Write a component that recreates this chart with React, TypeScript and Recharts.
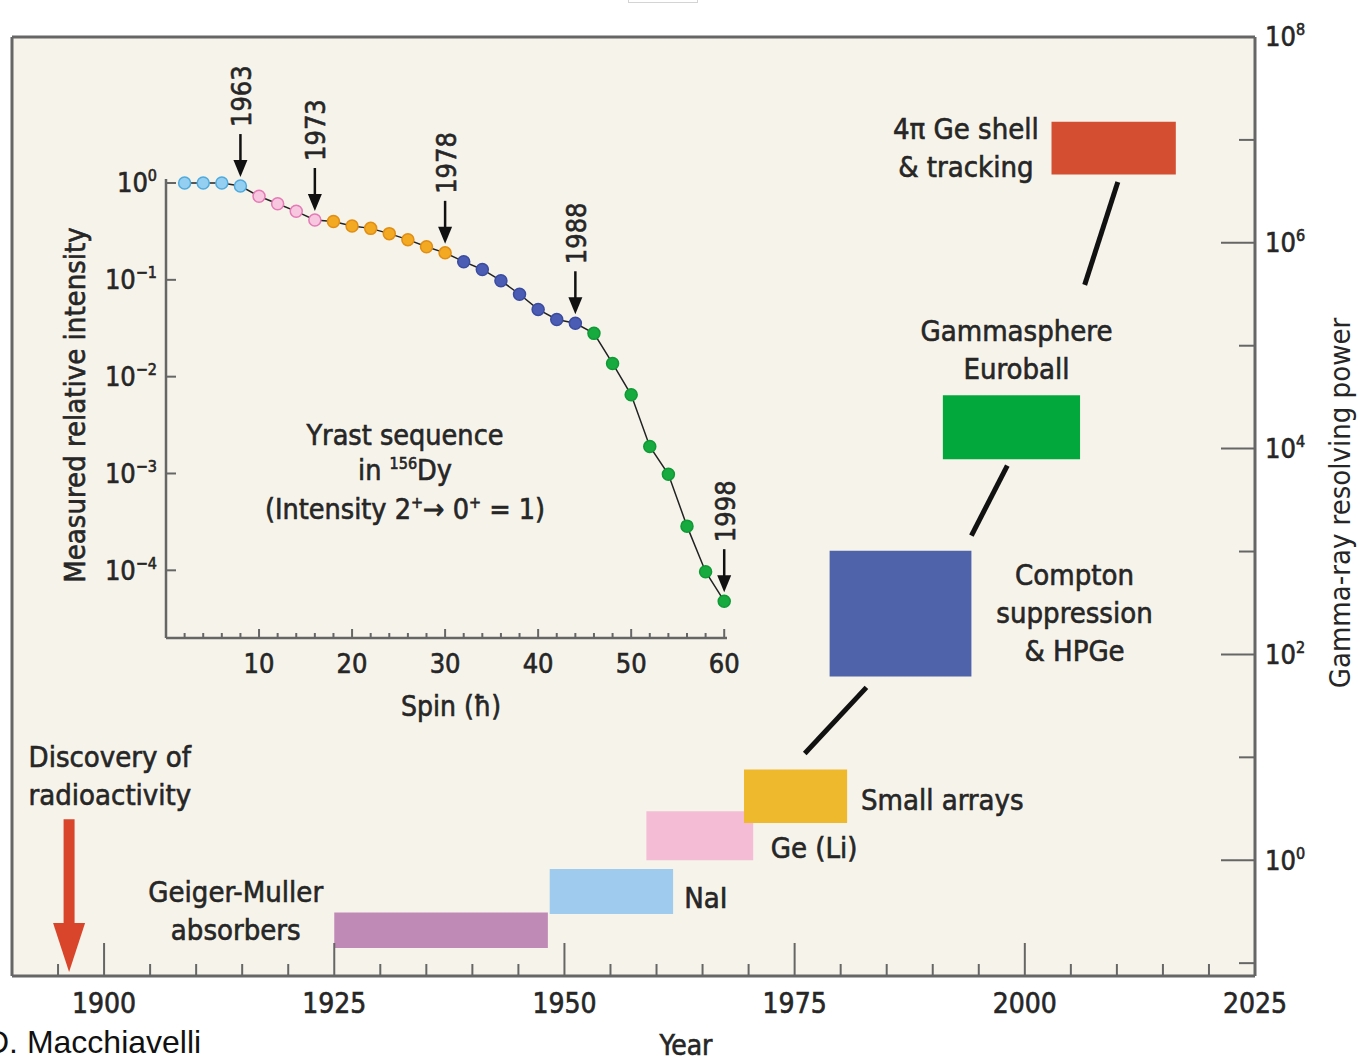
import {
  ComposedChart,
  LineChart,
  Line,
  XAxis,
  YAxis,
  CartesianGrid,
  ReferenceArea,
  ReferenceLine,
  ReferenceDot,
} from "recharts";

const FONT = '"Liberation Sans Narrow", "DejaVu Sans Condensed", Roboto, sans-serif';
const INK = "#262626";
const AXIS = "#666";
const BG = "#f6f3ea";

// detector generations (year span x gamma-ray resolving power)
const detectorNames = [
  "Geiger-Muller absorbers",
  "NaI",
  "Ge (Li)",
  "Small arrays",
  "Compton suppression & HPGe",
  "Gammasphere Euroball",
  "4π Ge shell & tracking",
];
const startYears = [1925, 1948.4, 1958.9, 1969.5, 1978.8, 1991.1, 2002.9];
const endYears = [1948.2, 1961.8, 1970.5, 1980.7, 1994.2, 2006, 2016.4];
const lowPower = [0.14, 0.3, 1.0, 2.3, 61, 7900, 4.6e6];
const highPower = [0.31, 0.82, 3.0, 7.6, 1020, 33000, 1.5e7];
const detectorColors = ["#c08ab6", "#9ecbee", "#f4bdd5", "#efb92d", "#4f63aa", "#03a83d", "#d44f31"];

// black links between generations
const linkYears = [
  [1976.1, 1982.8],
  [1994.2, 1998.1],
  [2006.5, 2010.1],
];
const linkPower = [
  [10.9, 47.8],
  [1430, 6840],
  [3.9e5, 3.9e6],
];

const discoveryYear = 1896.2;
const discoveryPower = [2.5, 0.082];

const yearTicks = [
  1890, 1895, 1900, 1905, 1910, 1915, 1920, 1925, 1930, 1935, 1940, 1945, 1950, 1955, 1960, 1965,
  1970, 1975, 1980, 1985, 1990, 1995, 2000, 2005, 2010, 2015, 2020, 2025,
];
const powerTicks = [0.1, 1, 10, 100, 1e3, 1e4, 1e5, 1e6, 1e7, 1e8];

// text notes on the main chart
const noteLines = [
  ["Discovery of", "radioactivity"],
  ["Geiger-Muller", "absorbers"],
  ["NaI"],
  ["Ge (Li)"],
  ["Small arrays"],
  ["Compton", "suppression", "& HPGe"],
  ["Gammasphere", "Euroball"],
  ["4π Ge shell", "& tracking"],
];
const noteYears = [1891.8, 1914.3, 1963.0, 1972.4, 1982.2, 2005.4, 1999.1, 1993.6];
const notePower = [10, 0.49, 0.43, 1.31, 3.9, 598, 1.4e5, 1.28e7];
const noteAlign = ["start", "middle", "start", "start", "start", "middle", "middle", "middle"];

// inset: yrast sequence in 156Dy
const spins = [
  2, 4, 6, 8, 10, 12, 14, 16, 18, 20, 22, 24, 26, 28, 30, 32, 34, 36, 38, 40, 42, 44, 46, 48, 50, 52,
  54, 56, 58, 60,
];
const intensities = [
  1, 1, 1, 0.93, 0.73, 0.61, 0.51, 0.415, 0.4, 0.36, 0.34, 0.3, 0.26, 0.22, 0.19, 0.154, 0.128,
  0.098, 0.071, 0.0495, 0.039, 0.0356, 0.028, 0.0137, 0.0065, 0.0019, 0.00098, 0.000286, 0.0000966,
  0.000048,
];
const firstSeen = [
  1963, 1963, 1963, 1963, 1973, 1973, 1973, 1973, 1978, 1978, 1978, 1978, 1978, 1978, 1978, 1988,
  1988, 1988, 1988, 1988, 1988, 1988, 1998, 1998, 1998, 1998, 1998, 1998, 1998, 1998,
];
const milestoneYears = [1963, 1973, 1978, 1988, 1998];
const dotColors: Record<number, [string, string]> = {
  1963: ["#94cff1", "#4fabde"],
  1973: ["#f7c6df", "#e57ab6"],
  1978: ["#f3a922", "#e08e14"],
  1988: ["#4a5cb4", "#3b4ca0"],
  1998: ["#17aa3f", "#0f9a35"],
};
const spinTicks = [
  2, 4, 6, 8, 10, 12, 14, 16, 18, 20, 22, 24, 26, 28, 30, 32, 34, 36, 38, 40, 42, 44, 46, 48, 50, 52,
  54, 56, 58, 60,
];
const intensityTicks = [1e-4, 1e-3, 1e-2, 1e-1, 1];

const linkData = linkYears.map((ys, i) =>
  ys.map((year, j) => ({ year, power: linkPower[i][j] }))
);
const insetData = spins.map((spin, i) => ({ spin, intensity: intensities[i], seen: firstSeen[i] }));

const heavy = { stroke: INK, strokeWidth: 0.6 };

function YearTick({ x, y, payload }: any) {
  const v = payload.value;
  const major = v % 25 === 0;
  return (
    <g>
      {v > 1890 && v < 2025 && (
        <line x1={x} x2={x} y1={y} y2={y - (major ? 33 : 12)} stroke={AXIS} strokeWidth={2} />
      )}
      {major && v > 1890 && (
        <text x={x} y={y + 27} dy="0.35em" textAnchor="middle" fontFamily={FONT} fontSize={28} fill={INK} {...heavy}>
          {v}
        </text>
      )}
    </g>
  );
}

function PowerTick({ x, y, payload }: any) {
  const exp = Math.round(Math.log10(payload.value));
  const major = exp % 2 === 0;
  return (
    <g>
      {exp < 8 && (
        <line x1={x} x2={x - (major ? 34 : 16)} y1={y} y2={y} stroke={AXIS} strokeWidth={2} />
      )}
      {major && (
        <text x={x + 10} y={y} dy="0.35em" fontFamily={FONT} fontSize={27} fill={INK} {...heavy}>
          10
          <tspan dy={-11} fontSize={16}>
            {exp}
          </tspan>
        </text>
      )}
    </g>
  );
}

function SpinTick({ x, y, payload }: any) {
  const v = payload.value;
  const major = v % 10 === 0;
  return (
    <g>
      <line x1={x} x2={x} y1={y} y2={y - (major ? 9 : 5)} stroke={AXIS} strokeWidth={2} />
      {major && (
        <text x={x} y={y + 26} dy="0.35em" textAnchor="middle" fontFamily={FONT} fontSize={27} fill={INK} {...heavy}>
          {v}
        </text>
      )}
    </g>
  );
}

function IntensityTick({ x, y, payload }: any) {
  const exp = Math.round(Math.log10(payload.value));
  return (
    <g>
      <line x1={x} x2={x + 10} y1={y} y2={y} stroke={AXIS} strokeWidth={2} />
      <text x={x - 9} y={y} dy="0.35em" textAnchor="end" fontFamily={FONT} fontSize={27} fill={INK} {...heavy}>
        10
        <tspan dy={-11} fontSize={16}>
          {exp === 0 ? "0" : "\u2212" + Math.abs(exp)}
        </tspan>
      </text>
    </g>
  );
}

function Note({ cx, cy, lines, anchor }: any) {
  return (
    <text textAnchor={anchor} fontFamily={FONT} fontSize={29} fill={INK} {...heavy}>
      {lines.map((l: string, i: number) => (
        <tspan key={i} x={cx} y={cy + i * 38} dy="0.35em">
          {l}
        </tspan>
      ))}
    </text>
  );
}

function DiscoveryArrow({ x1, y1, x2, y2 }: any) {
  const headTop = y2 - 49;
  return (
    <g>
      <line x1={x1} x2={x1} y1={y1} y2={headTop + 2} stroke="#d9452b" strokeWidth={11} />
      <path d={`M${x2 - 16},${headTop} L${x2 + 16},${headTop} L${x2},${y2} Z`} fill="#d9452b" />
    </g>
  );
}

function Milestone({ cx, cy, label }: any) {
  const tip = cy - 9;
  const top = cy - 52;
  return (
    <g>
      <line x1={cx} x2={cx} y1={top} y2={tip - 12} stroke="#111" strokeWidth={2.5} />
      <path d={`M${cx - 7},${tip - 17} L${cx + 7},${tip - 17} L${cx},${tip} Z`} fill="#111" />
      <text
        transform={`translate(${cx + 1},${top - 7}) rotate(-90)`}
        dy="0.35em"
        fontFamily={FONT}
        fontSize={27}
        fill={INK}
        {...heavy}
      >
        {label}
      </text>
    </g>
  );
}

function SpinDot(props: any) {
  const { cx, cy, index } = props;
  const [fill, stroke] = dotColors[firstSeen[index]];
  return <circle key={index} cx={cx} cy={cy} r={6} fill={fill} stroke={stroke} strokeWidth={1.5} />;
}

function MainChart() {
  return (
    <ComposedChart width={1360} height={1061} margin={{ top: 37, right: 0, bottom: 0, left: 12 }}>
      <CartesianGrid fill={BG} fillOpacity={1} horizontal={false} vertical={false} />
      <XAxis
        type="number"
        dataKey="year"
        domain={[1890, 2025]}
        ticks={yearTicks}
        allowDataOverflow
        height={85}
        tickSize={0}
        tickMargin={0}
        tick={<YearTick />}
        axisLine={{ stroke: AXIS, strokeWidth: 3 }}
        tickLine={false}
        interval={0}
      />
      <YAxis
        type="number"
        orientation="right"
        scale="log"
        domain={[0.075, 1e8]}
        ticks={powerTicks}
        allowDataOverflow
        width={105}
        tickSize={0}
        tickMargin={0}
        tick={<PowerTick />}
        axisLine={{ stroke: AXIS, strokeWidth: 3 }}
        tickLine={false}
        interval={0}
      />
      <ReferenceLine y={1e8} stroke={AXIS} strokeWidth={3} ifOverflow="visible" />
      <ReferenceLine x={1890} stroke={AXIS} strokeWidth={3} ifOverflow="visible" />
      {detectorNames.map((name, i) => (
        <ReferenceArea
          key={name}
          x1={startYears[i]}
          x2={endYears[i]}
          y1={lowPower[i]}
          y2={highPower[i]}
          fill={detectorColors[i]}
          fillOpacity={1}
          stroke="none"
        />
      ))}
      {linkData.map((d, i) => (
        <Line
          key={i}
          data={d}
          dataKey="power"
          stroke="#111"
          strokeWidth={5}
          dot={false}
          isAnimationActive={false}
        />
      ))}
      <ReferenceLine
        segment={[
          { x: discoveryYear, y: discoveryPower[0] },
          { x: discoveryYear, y: discoveryPower[1] },
        ]}
        ifOverflow="visible"
        shape={(p: any) => <DiscoveryArrow {...p} />}
      />
      {noteLines.map((lines, i) => (
        <ReferenceDot
          key={i}
          x={noteYears[i]}
          y={notePower[i]}
          r={1}
          ifOverflow="visible"
          shape={(p: any) => <Note cx={p.cx} cy={p.cy} lines={lines} anchor={noteAlign[i]} />}
        />
      ))}
    </ComposedChart>
  );
}

function InsetChart() {
  return (
    <LineChart
      width={1360}
      height={1061}
      data={insetData}
      margin={{ top: 179, right: 633, bottom: 363, left: 66 }}
    >
      <XAxis
        type="number"
        dataKey="spin"
        domain={[0, 60.3]}
        ticks={spinTicks}
        height={60}
        tickSize={0}
        tickMargin={0}
        tick={<SpinTick />}
        tickLine={false}
        axisLine={{ stroke: AXIS, strokeWidth: 2.5 }}
        interval={0}
      />
      <YAxis
        type="number"
        scale="log"
        domain={[2e-5, 1.1]}
        ticks={intensityTicks}
        width={100}
        tickSize={0}
        tickMargin={0}
        tick={<IntensityTick />}
        tickLine={false}
        axisLine={{ stroke: AXIS, strokeWidth: 2.5 }}
        interval={0}
      />
      <Line
        dataKey="intensity"
        stroke="#222"
        strokeWidth={1.5}
        dot={(p: any) => <SpinDot key={p.index} {...p} />}
        isAnimationActive={false}
      />
      {milestoneYears.map((yr) => {
        const idx = firstSeen.lastIndexOf(yr);
        return (
          <ReferenceDot
            key={yr}
            x={spins[idx]}
            y={intensities[idx]}
            r={1}
            ifOverflow="visible"
            shape={(p: any) => <Milestone cx={p.cx} cy={p.cy} label={String(yr)} />}
          />
        );
      })}
    </LineChart>
  );
}

export default function App() {
  return (
    <div
      style={{
        position: "absolute",
        left: 0,
        top: 0,
        width: 1360,
        height: 1061,
        background: "#fff",
        overflow: "hidden",
      }}
    >
      <div
        style={{
          position: "absolute",
          left: 628,
          top: -9,
          width: 68,
          height: 10,
          border: "1px solid #d4d4d4",
        }}
      />
      <div style={{ position: "absolute", left: 0, top: 0 }}>
        <MainChart />
      </div>
      <div style={{ position: "absolute", left: 0, top: 0 }}>
        <InsetChart />
      </div>
      <svg
        width={1360}
        height={1061}
        style={{ position: "absolute", left: 0, top: 0, pointerEvents: "none" }}
      >
        <text x={686} y={1045} dy="0.35em" textAnchor="middle" fontFamily={FONT} fontSize={28} fill={INK} {...heavy}>
          Year
        </text>
        <text
          transform="translate(1340,503) rotate(-90)"
          dy="0.35em"
          textAnchor="middle"
          fontFamily={FONT}
          fontSize={29}
          fill={INK}
        >
          Gamma-ray resolving power
        </text>
        <text
          transform="translate(75,405) rotate(-90)"
          dy="0.35em"
          textAnchor="middle"
          fontFamily={FONT}
          fontSize={29}
          fill={INK}
          {...heavy}
        >
          Measured relative intensity
        </text>
        <text x={451} y={706} dy="0.35em" textAnchor="middle" fontFamily={FONT} fontSize={28} fill={INK} {...heavy}>
          Spin (ħ)
        </text>
        <text textAnchor="middle" fontFamily={FONT} fontSize={28.5} fill={INK} {...heavy}>
          <tspan x={405} y={435} dy="0.35em">
            Yrast sequence
          </tspan>
          <tspan x={405} y={470} dy="0.35em">
            in <tspan dy={-11} fontSize={16}>156</tspan>
            <tspan dy={11}>Dy</tspan>
          </tspan>
          <tspan x={405} y={509} dy="0.35em">
            (Intensity 2<tspan dy={-11} fontSize={16}>+</tspan>
            <tspan dy={11}>→ 0</tspan>
            <tspan dy={-11} fontSize={16}>+</tspan>
            <tspan dy={11}> = 1)</tspan>
          </tspan>
        </text>
        <text x={-14} y={1053} fontFamily='"Liberation Sans", Arial, sans-serif' fontSize={32} fill="#111">
          D. Macchiavelli
        </text>
      </svg>
    </div>
  );
}
